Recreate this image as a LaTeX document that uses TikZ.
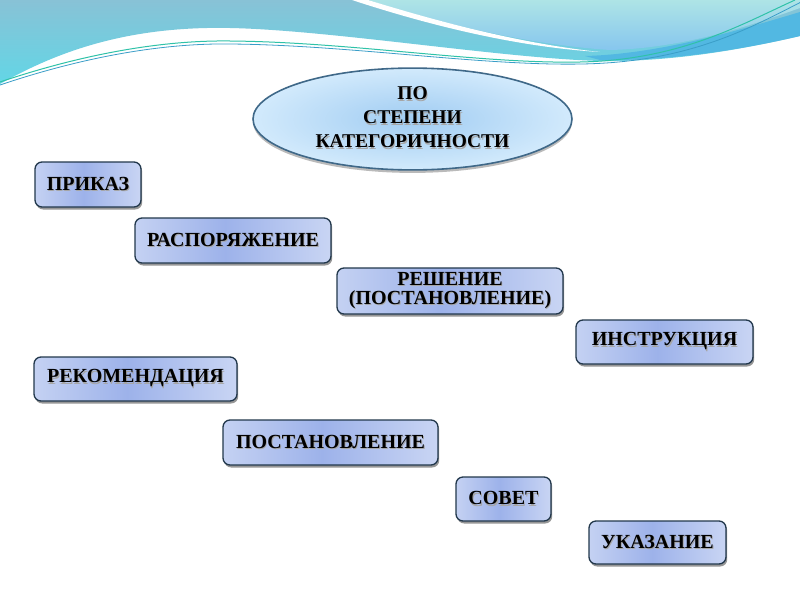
\documentclass[tikz,border=0pt]{standalone}
\usepackage{fontspec}
\setmainfont{Liberation Serif}
\usetikzlibrary{shapes.geometric,shadows,shadings}
\definecolor{bordc}{HTML}{22384C}
\definecolor{boxL}{HTML}{E8EEFA}
\definecolor{boxM}{HTML}{9DB2EA}
\definecolor{boxR}{HTML}{EBF0FB}
\definecolor{ellb}{HTML}{3F6888}
\definecolor{ellin}{HTML}{A0CCF2}
\definecolor{ellout}{HTML}{D2EAFC}
\definecolor{bandtop}{HTML}{88C2D6}
\definecolor{bandbot}{HTML}{62D6E6}
\definecolor{lobetop}{HTML}{AEE4E6}
\definecolor{lobebot}{HTML}{86C6EE}
\definecolor{bandc}{HTML}{52B8E2}
\definecolor{tealA}{HTML}{2FC2A8}
\definecolor{tealB}{HTML}{3A9EC8}
\pgfdeclarehorizontalshading{boxshade}{100bp}{color(0bp)=(boxL); color(4bp)=(boxL); color(48bp)=(boxM); color(96bp)=(boxR); color(100bp)=(boxR)}
\newcommand\sht[1]{\leavevmode\rlap{\hspace{0.9pt}\raisebox{-1.2pt}{\textcolor{black!35}{#1}}}#1}
\begin{document}
\begin{tikzpicture}[x=1pt,y=-1pt,
  box/.style={rounded corners=7pt, draw=bordc, line width=1.3pt,
    shading=boxshade,
    font=\fontsize{20}{19.5}\selectfont\bfseries, align=center, inner sep=0pt,
    drop shadow={shadow xshift=1.2pt, shadow yshift=-2.5pt, opacity=0.55, fill=black!75}},
  oval/.style={ellipse, draw=ellb, line width=1.6pt, inner color=ellin, outer color=ellout,
    minimum width=319pt, minimum height=92pt, inner sep=0pt, align=center,
    font=\fontsize{19.5}{24}\selectfont\bfseries,
    drop shadow={shadow xshift=0pt, shadow yshift=-3pt, opacity=0.45, fill=black!60}}
]
\useasboundingbox (0,0) rectangle (800,600);
\fill[white] (0,0) rectangle (800,600);
% top decoration
\shade[top color=bandtop, bottom color=bandbot]
  (0,0) -- (800,0) -- (800,36) .. controls (740,50) and (670,62) .. (600,61)
  .. controls (500,58) and (330,30) .. (230,28)
  .. controls (130,26) and (60,50) .. (0,84) -- cycle;
\shade[top color=lobetop, bottom color=lobebot]
  (368,0) .. controls (430,20) and (520,44) .. (610,50)
  .. controls (690,48) and (760,22) .. (800,8) -- (800,0) -- cycle;
\fill[white]
  (352,0) .. controls (425,24) and (515,47) .. (600,52)
  .. controls (515,43) and (430,19) .. (368,0) -- cycle;
\fill[bandc] (585,56) .. controls (660,54) and (740,30) .. (800,12) -- (800,36)
  .. controls (740,50) and (670,61) .. (600,60) -- cycle;
\draw[tealA, line width=1pt]
  (0,82) .. controls (80,55) and (160,40) .. (230,41)
  .. controls (350,42) and (480,64) .. (580,62)
  .. controls (680,60) and (740,25) .. (795,0);
\draw[tealB, line width=0.8pt]
  (0,85) .. controls (80,58) and (160,43) .. (230,44)
  .. controls (350,45) and (480,66) .. (582,64)
  .. controls (690,62) and (750,28) .. (805,0);
% main content
\node[oval] (root) at (412.5,119) {\raisebox{2.5pt}{\begin{tabular}{@{}c@{}}\sht{ПО}\\\sht{СТЕПЕНИ}\\\sht{КАТЕГОРИЧНОСТИ}\end{tabular}}};
\node[box, minimum width=106pt, minimum height=45pt] (prikaz) at (88,184.5) {\sht{ПРИКАЗ}};
\node[box, minimum width=196pt, minimum height=45pt] (rasp) at (233,240.5) {\sht{РАСПОРЯЖЕНИЕ}};
\node[box, minimum width=226pt, minimum height=46pt] (resh) at (450,291) {\sht{РЕШЕНИЕ}\\\sht{(ПОСТАНОВЛЕНИЕ)}};
\node[box, minimum width=177pt, minimum height=44pt] (instr) at (664.5,342) {\sht{ИНСТРУКЦИЯ}};
\node[box, minimum width=203pt, minimum height=44pt] (rekom) at (135.5,379) {\sht{РЕКОМЕНДАЦИЯ}};
\node[box, minimum width=215pt, minimum height=45pt] (post) at (330.5,442.5) {\sht{ПОСТАНОВЛЕНИЕ}};
\node[box, minimum width=95pt, minimum height=44pt] (sovet) at (503.5,499) {\sht{СОВЕТ}};
\node[box, minimum width=137pt, minimum height=43pt] (ukaz) at (657.5,542.5) {\sht{УКАЗАНИЕ}};
\end{tikzpicture}
\end{document}
